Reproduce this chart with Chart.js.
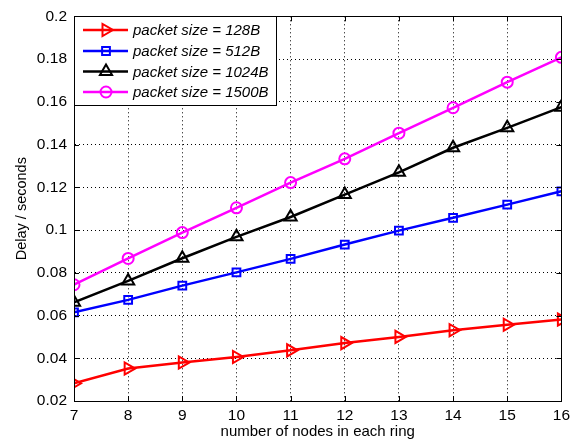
<!DOCTYPE html>
<html>
<head>
<meta charset="utf-8">
<script src="https://cdn.jsdelivr.net/npm/chart.js@4"></script>
<style>
  html, body { margin: 0; padding: 0; background: #fff; }
  #wrap { width: 575px; height: 439px; }
</style>
</head>
<body>
<div id="wrap"><canvas id="c" width="575" height="439"></canvas></div>
<script>
const nodes = [7, 8, 9, 10, 11, 12, 13, 14, 15, 16];
const delay128 = [0.0283, 0.0352, 0.0380, 0.0406, 0.0437, 0.0471, 0.0500, 0.0531, 0.0557, 0.0581];
const delay512 = [0.0615, 0.0673, 0.0740, 0.0802, 0.0865, 0.0932, 0.0997, 0.1057, 0.1119, 0.1181];
const delay1024 = [0.0662, 0.0762, 0.0868, 0.0968, 0.1061, 0.1166, 0.1270, 0.1385, 0.1478, 0.1575];
const delay1500 = [0.0744, 0.0867, 0.0988, 0.1104, 0.1222, 0.1333, 0.1453, 0.1572, 0.1692, 0.1808];
const seriesLabels = ['packet size = 128B', 'packet size = 512B', 'packet size = 1024B', 'packet size = 1500B'];
const xTitle = 'number of nodes in each ring';
const yTitle = 'Delay / seconds';

const FONT = '"Liberation Sans", Arial, Helvetica, sans-serif';

function pts(arr) { return arr.map((v, i) => ({ x: nodes[i], y: v })); }

const styles = [
  { color: '#ff0000', pointStyle: 'triangle', rotation: 90, radius: 7 },
  { color: '#0000ff', pointStyle: 'rect', rotation: 0, radius: 5.5 },
  { color: '#000000', pointStyle: 'triangle', rotation: 0, radius: 7 },
  { color: '#ff00ff', pointStyle: 'circle', rotation: 0, radius: 5.5 }
];
const seriesData = [delay128, delay512, delay1024, delay1500];

const datasets = seriesData.map((d, i) => ({
  label: seriesLabels[i],
  data: pts(d),
  borderColor: styles[i].color,
  backgroundColor: 'rgba(0,0,0,0)',
  borderWidth: 2.5,
  pointStyle: styles[i].pointStyle,
  pointRotation: styles[i].rotation,
  pointRadius: styles[i].radius,
  pointHoverRadius: styles[i].radius,
  pointBorderWidth: 2,
  pointBorderColor: styles[i].color,
  pointBackgroundColor: 'rgba(0,0,0,0)',
  tension: 0
}));

const framePlugin = {
  id: 'frame',
  afterDraw(chart) {
    const ctx = chart.ctx;
    const a = chart.chartArea;
    const xs = chart.scales.x, ys = chart.scales.y;
    ctx.save();
    ctx.setLineDash([]);
    ctx.strokeStyle = '#000';
    ctx.lineWidth = 1;
    ctx.strokeRect(Math.round(a.left) + 0.5, Math.round(a.top) + 0.5, Math.round(a.right - a.left), Math.round(a.bottom - a.top));
    const tl = 5;
    ctx.beginPath();
    xs.ticks.forEach(t => {
      const px = Math.round(xs.getPixelForValue(t.value)) + 0.5;
      ctx.moveTo(px, a.bottom); ctx.lineTo(px, a.bottom - tl);
      ctx.moveTo(px, a.top); ctx.lineTo(px, a.top + tl);
    });
    ys.ticks.forEach(t => {
      const py = Math.round(ys.getPixelForValue(t.value)) + 0.5;
      ctx.moveTo(a.left, py); ctx.lineTo(a.left + tl, py);
      ctx.moveTo(a.right, py); ctx.lineTo(a.right - tl, py);
    });
    ctx.stroke();

    // legend box
    const lx = 74.5, ly = 16.5, lw = 202, lh = 89;
    ctx.fillStyle = '#fff';
    ctx.fillRect(lx, ly, lw, lh);
    ctx.strokeStyle = '#000';
    ctx.lineWidth = 1;
    ctx.strokeRect(lx, ly, lw, lh);
    const rows = [30, 51, 71.5, 92];
    chart.data.datasets.forEach((ds, i) => {
      const y = rows[i];
      ctx.strokeStyle = ds.borderColor;
      ctx.lineWidth = 2.5;
      ctx.beginPath();
      ctx.moveTo(83, y); ctx.lineTo(128, y);
      ctx.stroke();
      ctx.lineWidth = 2;
      ctx.strokeStyle = ds.borderColor;
      ctx.fillStyle = 'rgba(0,0,0,0)';
      Chart.helpers.drawPoint(ctx, {
        pointStyle: ds.pointStyle,
        rotation: ds.pointRotation,
        radius: ds.pointRadius,
        borderWidth: 2
      }, 106, y);
      ctx.fillStyle = '#000';
      ctx.font = 'italic 15px ' + FONT;
      ctx.textBaseline = 'middle';
      ctx.textAlign = 'left';
      ctx.fillText(ds.label, 133, y + 1);
    });
    ctx.restore();
  }
};

new Chart(document.getElementById('c'), {
  type: 'line',
  data: { datasets },
  plugins: [framePlugin],
  options: {
    responsive: false,
    animation: false,
    devicePixelRatio: 1,
    layout: { padding: { top: 16, right: 13, left: 0, bottom: 0 } },
    plugins: { legend: { display: false }, tooltip: { enabled: false } },
    scales: {
      x: {
        type: 'linear',
        min: 7, max: 16,
        afterFit(s) { s.height = 38; },
        ticks: { stepSize: 1, color: '#000', padding: 5, font: { family: FONT, size: 15.5 } },
        grid: { color: '#000', lineWidth: 1, drawTicks: false },
        border: { display: true, color: '#000', width: 1, dash: [1, 3] },
        title: { display: true, text: xTitle, color: '#000', padding: { top: 0, bottom: 0 }, font: { family: FONT, size: 15, lineHeight: 1 } }
      },
      y: {
        type: 'linear',
        min: 0.02, max: 0.2,
        afterFit(s) { s.width = 74; },
        ticks: {
          stepSize: 0.02, color: '#000', padding: 7, font: { family: FONT, size: 15.5 },
          callback: v => Number(v.toFixed(2)).toString()
        },
        grid: { color: '#000', lineWidth: 1, drawTicks: false },
        border: { display: true, color: '#000', width: 1, dash: [1, 3] },
        title: { display: true, text: yTitle, color: '#000', padding: { top: 13, bottom: 0 }, font: { family: FONT, size: 14.5 } }
      }
    }
  }
});
</script>
</body>
</html>
